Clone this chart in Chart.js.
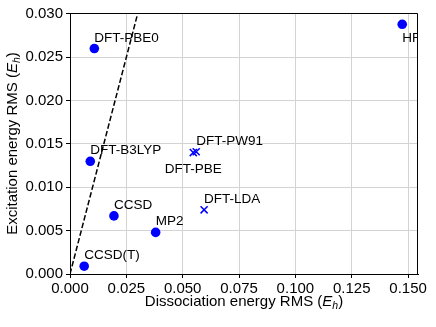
<!DOCTYPE html>
<html>
<head>
<meta charset="utf-8">
<script src="https://cdn.jsdelivr.net/npm/chart.js@4.4.1/dist/chart.umd.min.js"></script>
<style>
  html, body { margin: 0; padding: 0; background: #fff; }
  #wrap { width: 436px; height: 327px; position: relative; }
</style>
</head>
<body>
<div id="wrap"><canvas id="chart"></canvas></div>
<script>
// filled circles
const methods = ['HF', 'DFT-PBE0', 'DFT-B3LYP', 'CCSD', 'MP2', 'CCSD(T)']
const dissocRms = [0.1474, 0.0108, 0.0090, 0.0195, 0.0380, 0.0063]
const excitRms = [0.0288, 0.0260, 0.0130, 0.0067, 0.0048, 0.0009]

// x markers
const dftMethods = ['DFT-PW91', 'DFT-PBE', 'DFT-LDA']
const dftDissocRms = [0.0560, 0.0547, 0.0595]
const dftExcitRms = [0.0141, 0.0140, 0.0074]

// y = x reference line
const refLineX = [0, 0.04]
const refLineY = [0, 0.04]

const xTickValues = [0, 0.025, 0.05, 0.075, 0.1, 0.125, 0.15]
const xTickLabels = ['0.000', '0.025', '0.050', '0.075', '0.100', '0.125', '0.150']
const yTickValues = [0, 0.005, 0.01, 0.015, 0.02, 0.025, 0.03]
const yTickLabels = ['0.000', '0.005', '0.010', '0.015', '0.020', '0.025', '0.030']

const FONT = '"Liberation Sans", Arial, sans-serif'
// where a label sits relative to its marker (default: above, left-aligned)
const labelPlacement = { 'HF': 'below', 'DFT-PBE': 'belowCenter' }

const toPoints = (xs, ys) => xs.map((x, i) => ({ x: x, y: ys[i] }))

function drawTitle(ctx, parts, x, y, rotate) {
  ctx.save()
  ctx.translate(x, y)
  if (rotate) ctx.rotate(-Math.PI / 2)
  let total = 0
  for (let p of parts) { ctx.font = p.font; total += ctx.measureText(p.text).width }
  let cx = -total / 2
  ctx.fillStyle = '#000'
  ctx.textBaseline = 'alphabetic'
  ctx.textAlign = 'left'
  for (let p of parts) {
    ctx.font = p.font
    ctx.fillText(p.text, cx, p.dy || 0)
    cx += ctx.measureText(p.text).width
  }
  ctx.restore()
}

function titleParts(text) {
  return [
    { text: text + ' (', font: '15px ' + FONT },
    { text: 'E', font: 'italic 15px ' + FONT },
    { text: 'h', font: 'italic 10.5px ' + FONT, dy: 3 },
    { text: ')', font: '15px ' + FONT }
  ]
}

const extrasPlugin = {
  id: 'extras',
  afterDatasetsDraw(chart) {
    const ctx = chart.ctx
    const area = chart.chartArea
    // point labels, clipped to the plot area
    ctx.save()
    ctx.beginPath()
    ctx.rect(area.left, area.top, area.right - area.left, area.bottom - area.top)
    ctx.clip()
    ctx.font = '13.5px ' + FONT
    ctx.fillStyle = '#000'
    chart.data.datasets.forEach((ds, di) => {
      if (!ds.pointNames) return
      const meta = chart.getDatasetMeta(di)
      meta.data.forEach((el, j) => {
        const name = ds.pointNames[j]
        const place = labelPlacement[name]
        if (place === 'below') {
          ctx.textAlign = 'left'
          ctx.textBaseline = 'top'
          ctx.fillText(name, el.x, el.y + 7)
        } else if (place === 'belowCenter') {
          ctx.textAlign = 'center'
          ctx.textBaseline = 'top'
          ctx.fillText(name, el.x, el.y + 10)
        } else {
          ctx.textAlign = 'left'
          ctx.textBaseline = 'alphabetic'
          ctx.fillText(name, el.x, el.y - 7)
        }
      })
    })
    ctx.restore()
  },
  afterDraw(chart) {
    const ctx = chart.ctx
    const area = chart.chartArea
    // top and right spines
    ctx.save()
    ctx.strokeStyle = '#000'
    ctx.lineWidth = 1
    ctx.beginPath()
    ctx.moveTo(area.left, area.top + 0.5)
    ctx.lineTo(area.right - 0.5, area.top + 0.5)
    ctx.lineTo(area.right - 0.5, area.bottom)
    ctx.stroke()
    ctx.restore()
    // axis titles
    drawTitle(ctx, titleParts('Dissociation energy RMS'), (area.left + area.right) / 2, 306, false)
    drawTitle(ctx, titleParts('Excitation energy RMS'), 17, (area.top + area.bottom) / 2, true)
  }
}

const ctx = document.getElementById('chart')

new Chart(ctx, {
  type: 'scatter',
  data: {
    datasets: [
      {
        type: 'line',
        data: toPoints(refLineX, refLineY),
        borderColor: '#000',
        borderWidth: 1.5,
        borderDash: [5.5, 2.4],
        pointRadius: 0,
        fill: false
      },
      {
        data: toPoints(dissocRms, excitRms),
        pointNames: methods,
        pointStyle: 'circle',
        pointRadius: 4.8,
        backgroundColor: '#0000ff',
        borderColor: '#0000ff',
        borderWidth: 0
      },
      {
        data: toPoints(dftDissocRms, dftExcitRms),
        pointNames: dftMethods,
        pointStyle: 'crossRot',
        pointRadius: 5,
        borderColor: '#0000ff',
        borderWidth: 1.5
      }
    ]
  },
  options: {
    responsive: true,
    maintainAspectRatio: false,
    animation: false,
    layout: { padding: { left: 0, right: 18, top: 13, bottom: 0 } },
    plugins: {
      legend: { display: false },
      tooltip: { enabled: false }
    },
    scales: {
      x: {
        type: 'linear',
        min: 0,
        max: 0.1544,
        afterFit: s => { s.height = 53 },
        afterBuildTicks: axis => { axis.ticks = xTickValues.map(v => ({ value: v })) },
        ticks: {
          autoSkip: false,
          maxRotation: 0,
          padding: 2,
          color: '#000',
          font: { family: FONT, size: 15 },
          callback: (v, i) => xTickLabels[i]
        },
        grid: { color: '#d3d3d3', lineWidth: 1, tickColor: '#000', tickLength: 4 },
        border: { color: '#000', width: 1 }
      },
      y: {
        type: 'linear',
        min: 0,
        max: 0.0301,
        afterFit: s => { s.width = 70 },
        afterBuildTicks: axis => { axis.ticks = yTickValues.map(v => ({ value: v })) },
        ticks: {
          autoSkip: false,
          padding: 3,
          color: '#000',
          font: { family: FONT, size: 15 },
          callback: (v, i) => yTickLabels[i]
        },
        grid: { color: '#d3d3d3', lineWidth: 1, tickColor: '#000', tickLength: 4 },
        border: { color: '#000', width: 1 }
      }
    }
  },
  plugins: [extrasPlugin]
})
</script>
</body>
</html>
